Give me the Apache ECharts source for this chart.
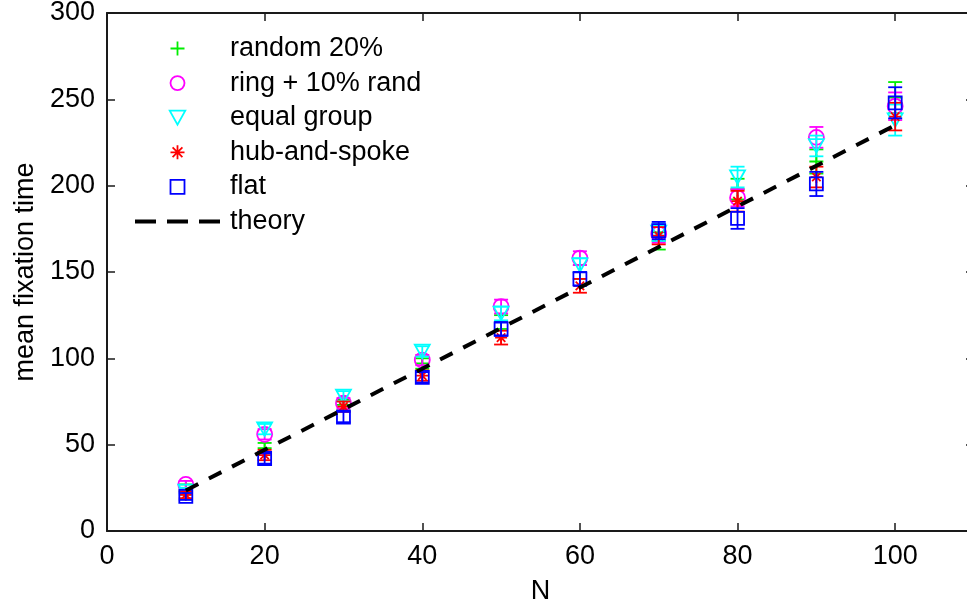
<!DOCTYPE html>
<html><head><meta charset="utf-8">
<script src="https://cdn.jsdelivr.net/npm/echarts@6/dist/echarts.min.js"></script>
<style>html,body{margin:0;padding:0;background:#fff}#c{width:967px;height:606px}</style>
</head><body><div id="c"></div>
<script>
const nValues = [10, 20, 30, 40, 50, 60, 70, 80, 90, 100];

const randomMean = [25, 48, 73, 97, 121, 150, 168, 198, 214, 251];
const randomErr  = [2, 3, 3, 3, 4, 4, 5, 6, 7, 9];
const ringMean   = [27, 56, 74, 99, 130, 158, 172, 193, 228, 246];
const ringErr    = [2, 3, 3, 3, 4, 4, 5, 5, 6, 8];
const equalMean  = [23, 59, 78, 104, 126, 154, 173, 205, 223, 238];
const equalErr   = [2, 3, 3, 3, 4, 4, 5, 6, 6, 9];
const hubMean    = [21, 44, 72, 90, 112, 142, 171, 191, 205, 240];
const hubErr     = [2, 3, 3, 3, 4, 4, 5, 6, 6, 8];
const flatMean   = [20, 42, 66, 89, 117, 146, 174, 181, 201, 248];
const flatErr    = [2, 3, 3, 3, 4, 4, 5, 6, 7, 9];
const theory     = [23.5, 47, 70.5, 94, 117.5, 141, 164.5, 188, 211.5, 235];

const xTickLabels = ['0', '20', '40', '60', '80', '100'];
const yTickLabels = ['0', '50', '100', '150', '200', '250', '300'];

const FONT = "'Liberation Sans', Arial, Helvetica, sans-serif";
const AXC = '#1a1a1a';

const defs = [
  {name: 'random 20%', mean: randomMean, err: randomErr, color: '#00ee00',
   symbol: 'path://M5,0L5,10M0,5L10,5', size: 14},
  {name: 'ring + 10% rand', mean: ringMean, err: ringErr, color: '#ff00ff',
   symbol: 'circle', size: 15},
  {name: 'equal group', mean: equalMean, err: equalErr, color: '#00ffff',
   symbol: 'path://M0,0L10,0L5,9Z', size: 15},
  {name: 'hub-and-spoke', mean: hubMean, err: hubErr, color: '#ff0000',
   symbol: 'path://M5,0L5,10M0,5L10,5M1.5,1.5L8.5,8.5M8.5,1.5L1.5,8.5', size: 12},
  {name: 'flat', mean: flatMean, err: flatErr, color: '#0000ff',
   symbol: 'path://M0,0L10,0L10,10L0,10Z', size: 13}
];

const series = [];
defs.forEach((d, i) => {
  series.push({
    name: d.name + ' err', type: 'custom', z: 10 + i * 2,
    encode: {x: 0, y: [1, 2]},
    data: nValues.map((n, k) => [n, d.mean[k] - d.err[k], d.mean[k] + d.err[k]]),
    renderItem: (params, api) => {
      const x = api.value(0);
      const lo = api.coord([x, api.value(1)]);
      const hi = api.coord([x, api.value(2)]);
      const cw = 7;
      const st = {stroke: d.color, lineWidth: 1.8};
      return {type: 'group', children: [
        {type: 'line', shape: {x1: lo[0], y1: lo[1], x2: hi[0], y2: hi[1]}, style: st},
        {type: 'line', shape: {x1: lo[0] - cw, y1: lo[1], x2: lo[0] + cw, y2: lo[1]}, style: st},
        {type: 'line', shape: {x1: hi[0] - cw, y1: hi[1], x2: hi[0] + cw, y2: hi[1]}, style: st}
      ]};
    }
  });
  series.push({
    name: d.name, type: 'scatter', z: 11 + i * 2,
    symbol: d.symbol, symbolSize: d.size, symbolKeepAspect: true,
    itemStyle: {color: 'rgba(0,0,0,0)', borderColor: d.color, borderWidth: 1.8, opacity: 1},
    emphasis: {disabled: true},
    data: nValues.map((n, k) => [n, d.mean[k]])
  });
});
series.push({
  name: 'theory', type: 'line', z: 30, symbol: 'none', showSymbol: false,
  itemStyle: {color: '#000'},
  lineStyle: {color: '#000', width: 4, type: [14, 12]},
  data: nValues.map((n, k) => [n, theory[k]])
});

const axisCommon = {
  axisLine: {show: true, onZero: false, lineStyle: {color: AXC, width: 2}},
  axisTick: {show: true, inside: true, length: 8, lineStyle: {color: AXC, width: 1.5}},
  splitLine: {show: false}
};

const option = {
  animation: false,
  backgroundColor: '#fff',
  grid: {left: 107, width: 867, top: 13, height: 518, containLabel: false, outerBoundsMode: 'none'},
  legend: {
    orient: 'vertical', left: 135, top: 35, padding: 0, selectedMode: false,
    itemWidth: 85, itemHeight: 14, itemGap: 7.6, symbolKeepAspect: true,
    textStyle: {fontFamily: FONT, fontSize: 27, color: '#000', lineHeight: 27, padding: [0, 0, 0, 5]},
    data: defs.map(d => ({name: d.name, icon: d.symbol === 'circle' ? 'circle' : d.symbol,
        itemStyle: {color: 'rgba(0,0,0,0)', borderColor: d.color, borderWidth: 1.8}}))
      .concat([{name: 'theory', icon: 'path://M0,0L21,0L21,4L0,4ZM32,0L53,0L53,4L32,4ZM64,0L85,0L85,4L64,4Z',
        itemStyle: {color: '#000', borderWidth: 0}}])
  },
  xAxis: [
    Object.assign({}, axisCommon, {
      type: 'value', min: 0, max: 110, interval: 20, position: 'bottom',
      name: 'N', nameLocation: 'middle', nameGap: 47,
      nameTextStyle: {fontFamily: FONT, fontSize: 27, color: '#000'},
      axisLabel: {fontFamily: FONT, fontSize: 27, color: '#000', margin: 12,
        formatter: v => (xTickLabels.indexOf(String(v)) >= 0 ? String(v) : '')}
    }),
    Object.assign({}, axisCommon, {
      type: 'value', min: 0, max: 110, interval: 20, position: 'top',
      axisLabel: {show: false}
    })
  ],
  yAxis: [
    Object.assign({}, axisCommon, {
      type: 'value', min: 0, max: 300, interval: 50, position: 'left',
      name: 'mean fixation time', nameLocation: 'middle', nameGap: 62,
      nameTextStyle: {fontFamily: FONT, fontSize: 27, color: '#000'},
      axisLabel: {fontFamily: FONT, fontSize: 27, color: '#000', margin: 12,
        formatter: v => (yTickLabels.indexOf(String(v)) >= 0 ? String(v) : '')}
    }),
    Object.assign({}, axisCommon, {
      type: 'value', min: 0, max: 300, interval: 50, position: 'right',
      axisLabel: {show: false}
    })
  ],
  series: series
};

const chart = echarts.init(document.getElementById('c'), null, {renderer: 'canvas'});
chart.setOption(option);
</script>
</body></html>
